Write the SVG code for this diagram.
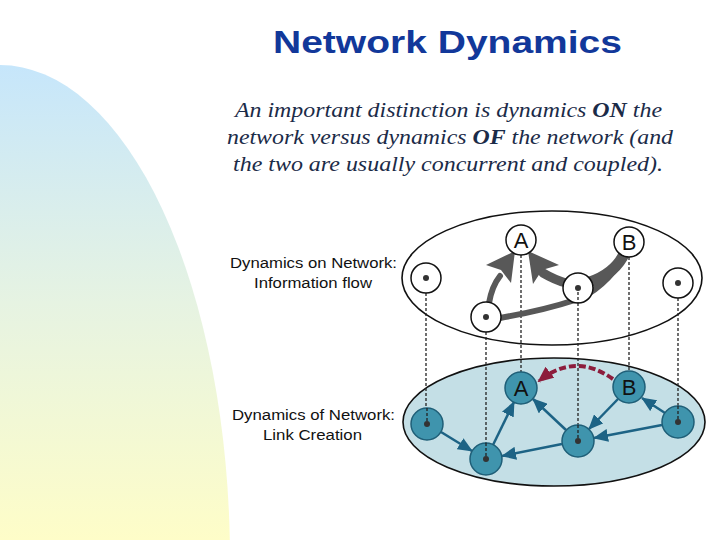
<svg xmlns="http://www.w3.org/2000/svg" width="720" height="540" viewBox="0 0 720 540">
<defs>
<linearGradient id="bg" x1="0" y1="65" x2="0" y2="540" gradientUnits="userSpaceOnUse">
<stop offset="0" stop-color="#c6e6fb"/>
<stop offset="0.5" stop-color="#e6f3e2"/>
<stop offset="1" stop-color="#fefdc8"/>
</linearGradient>
<marker id="ah" markerUnits="userSpaceOnUse" markerWidth="15" markerHeight="13" viewBox="0 0 15 13" refX="14" refY="6.5" orient="auto">
<path d="M0,0 L15,6.5 L0,13 z" fill="#1d6385"/>
</marker>
<marker id="ahr" markerUnits="userSpaceOnUse" markerWidth="16" markerHeight="14" viewBox="0 0 16 14" refX="14" refY="7" orient="auto">
<path d="M0,0 L16,7 L0,14 z" fill="#8c1c3c"/>
</marker>
</defs>
<style>
.title{font-family:"Liberation Sans",Arial,sans-serif;font-weight:bold;font-size:32px;fill:#12389a}
.sub{font-family:"Liberation Serif","Times New Roman",serif;font-style:italic;font-size:22px;fill:#1b2b48}
.lab{font-family:"Liberation Sans",Arial,sans-serif;font-size:15.5px;fill:#111}
.tn{fill:#fff;stroke:#111;stroke-width:1.5}
.bn{fill:#3f94ad;stroke:#1f5f78;stroke-width:1.5}
.dot{fill:#333}
.let{font-family:"Liberation Sans",Arial,sans-serif;font-size:22px;fill:#111;text-anchor:middle}
.dash{stroke:#222;stroke-width:1.3;stroke-dasharray:3 2;fill:none}
.ba{stroke:#1d6385;stroke-width:2.5;fill:none;marker-end:url(#ah)}
.ga{stroke:#585858;fill:none;stroke-linecap:round}
</style>
<rect width="720" height="540" fill="#fff"/>
<ellipse cx="0" cy="560" rx="230" ry="495" fill="url(#bg)"/>
<text class="title" x="273" y="53" textLength="349" lengthAdjust="spacingAndGlyphs">Network Dynamics</text>
<text class="sub" x="235" y="117" textLength="427" lengthAdjust="spacingAndGlyphs">An important distinction is dynamics <tspan font-weight="bold">ON</tspan> the</text>
<text class="sub" x="227" y="144" textLength="446" lengthAdjust="spacingAndGlyphs">network versus dynamics <tspan font-weight="bold">OF</tspan> the network (and</text>
<text class="sub" x="233" y="171" textLength="430" lengthAdjust="spacingAndGlyphs">the two are usually concurrent and coupled).</text>
<g id="label-on">
<text class="lab" x="230" y="268" textLength="167" lengthAdjust="spacingAndGlyphs">Dynamics on Network:</text>
<text class="lab" x="254" y="288" textLength="118" lengthAdjust="spacingAndGlyphs">Information flow</text>
</g>
<g id="label-of">
<text class="lab" x="232" y="420" textLength="163" lengthAdjust="spacingAndGlyphs">Dynamics of Network:</text>
<text class="lab" x="263" y="440" textLength="99" lengthAdjust="spacingAndGlyphs">Link Creation</text>
</g>
<g id="layer-top">
<ellipse cx="552" cy="278" rx="150" ry="67" fill="#fff" stroke="#111" stroke-width="1.6"/>
</g>
<g id="layer-bottom">
<ellipse cx="554" cy="422" rx="151" ry="64" fill="#c4dfe6" stroke="#111" stroke-width="1.6"/>
</g>
<g id="connectors">
<line class="dash" x1="426" y1="293" x2="426" y2="424"/>
<line class="dash" x1="486" y1="332" x2="486" y2="459"/>
<line class="dash" x1="521" y1="255" x2="521" y2="372"/>
<line class="dash" x1="578" y1="288" x2="578" y2="441"/>
<line class="dash" x1="629" y1="257" x2="629" y2="371"/>
<line class="dash" x1="678" y1="298" x2="678" y2="422"/>
<path class="ga" stroke-width="6" d="M500,318 Q545,310 575,300 Q603,290 626,255"/>
<path class="ga" stroke-width="11" stroke-linecap="butt" d="M625,252 Q616,273 590,282"/>
<path class="ga" stroke-width="6" d="M489,303 Q492,286 500,276"/>
<polygon points="515,251 486,265 501,270 511,283" fill="#585858"/>
<path class="ga" stroke-width="9" stroke-linecap="butt" d="M566,283 Q555,280 543,273"/>
<polygon points="528,251 559,265 542,270 533,284" fill="#585858"/>
<line class="ba" x1="441" y1="432" x2="472" y2="451"/>
<line class="ba" x1="493" y1="445" x2="514" y2="402"/>
<line class="ba" x1="566" y1="430" x2="533" y2="399"/>
<line class="ba" x1="562" y1="444" x2="502" y2="456"/>
<line class="ba" x1="618" y1="399" x2="589" y2="429"/>
<line class="ba" x1="662" y1="425" x2="594" y2="438"/>
<line class="ba" x1="665" y1="413" x2="642" y2="398"/>
<path d="M613,379 Q575,352 539,381" stroke="#8c1c3c" stroke-width="4" stroke-dasharray="7 3" fill="none" marker-end="url(#ahr)"/>
</g>
<g id="top-A"><circle class="tn" cx="521" cy="240" r="15"/><text class="let" x="521" y="248">A</text></g>
<g id="top-B"><circle class="tn" cx="629" cy="242" r="15"/><text class="let" x="629" y="250">B</text></g>
<g id="top-L"><circle class="tn" cx="426" cy="278" r="15"/><circle class="dot" cx="426" cy="278" r="3"/></g>
<g id="top-R"><circle class="tn" cx="678" cy="283" r="15"/><circle class="dot" cx="678" cy="283" r="3"/></g>
<g id="top-BL"><circle class="tn" cx="486" cy="317" r="15"/><circle class="dot" cx="486" cy="317" r="3"/></g>
<g id="top-M"><circle class="tn" cx="578" cy="288" r="15"/><circle class="dot" cx="578" cy="288" r="3"/><line class="dash" x1="578" y1="292" x2="578" y2="303"/></g>
<g id="bot-A"><circle class="bn" cx="521" cy="388" r="16"/><text class="let" x="521" y="396" font-size="23">A</text></g>
<g id="bot-B"><circle class="bn" cx="629" cy="387" r="16"/><text class="let" x="629" y="395" font-size="23">B</text></g>
<g id="bot-L"><circle class="bn" cx="427" cy="424" r="16"/><circle class="dot" cx="427" cy="424" r="3"/><line class="dash" x1="427" y1="408" x2="427" y2="422"/></g>
<g id="bot-BL"><circle class="bn" cx="486" cy="459" r="16"/><circle class="dot" cx="486" cy="459" r="3"/><line class="dash" x1="486" y1="443" x2="486" y2="457"/></g>
<g id="bot-M"><circle class="bn" cx="578" cy="441" r="16"/><circle class="dot" cx="578" cy="441" r="3"/><line class="dash" x1="578" y1="425" x2="578" y2="439"/></g>
<g id="bot-R"><circle class="bn" cx="678" cy="422" r="16"/><circle class="dot" cx="678" cy="422" r="3"/><line class="dash" x1="678" y1="406" x2="678" y2="420"/></g>
</svg>
